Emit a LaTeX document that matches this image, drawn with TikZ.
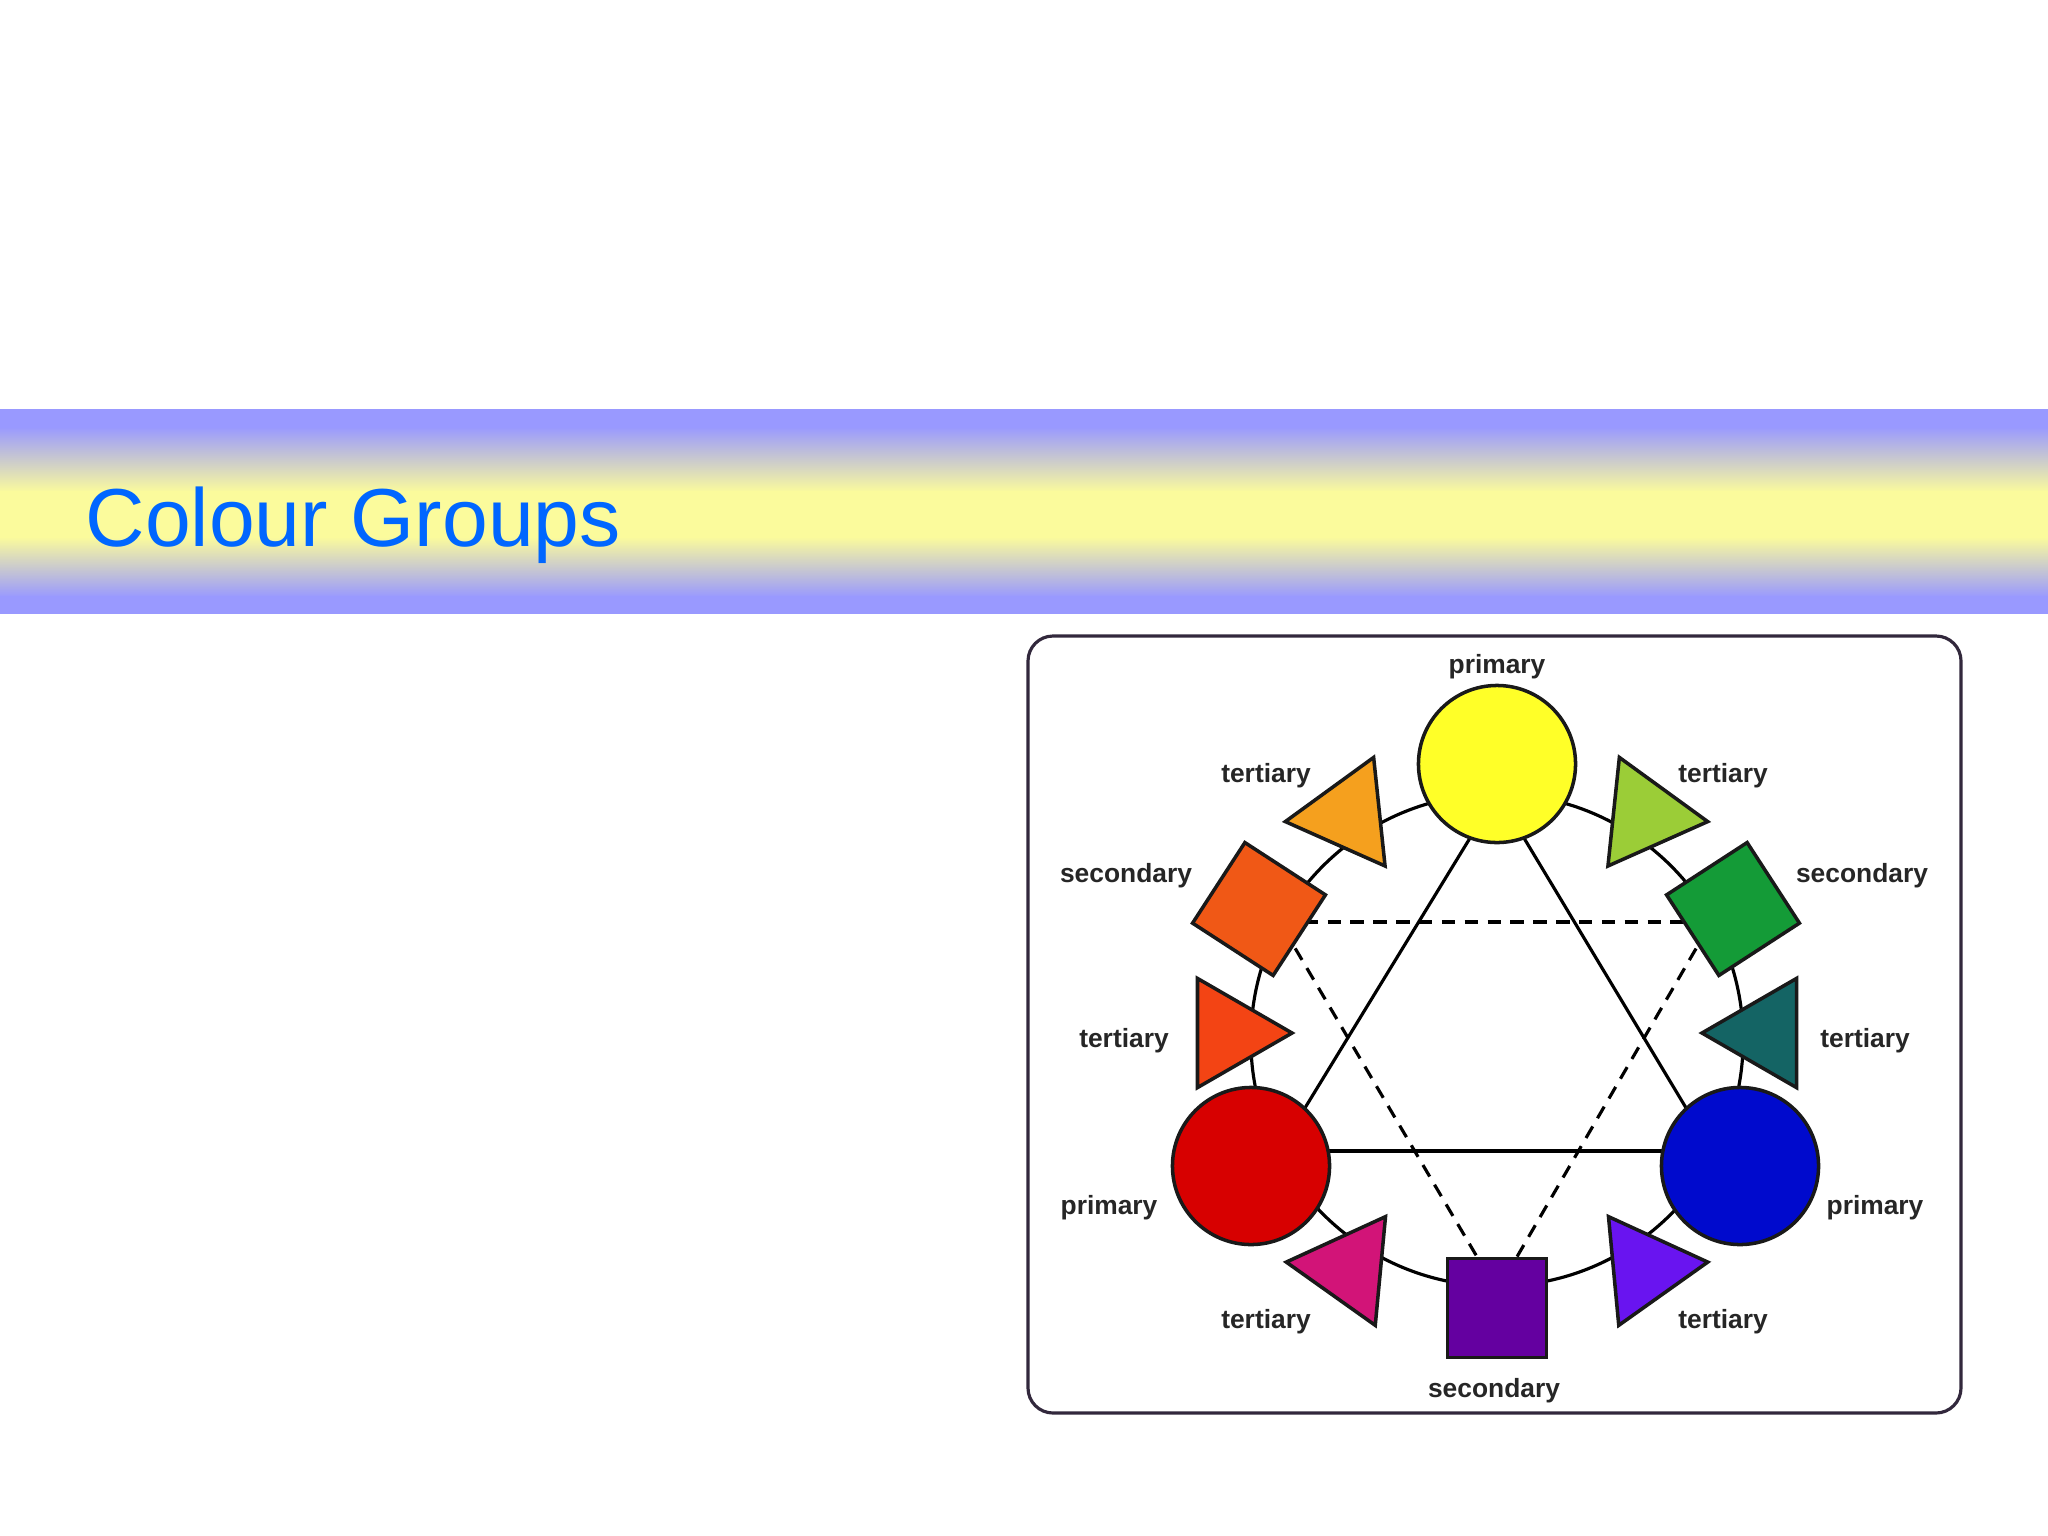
\documentclass[tikz,border=0pt]{standalone}
\usepackage{fontspec}
\setmainfont{Liberation Sans}
\usetikzlibrary{shapes.geometric,calc}
\pgfdeclarelayer{bg}
\pgfsetlayers{bg,main}
\definecolor{lav}{RGB}{153,153,255}
\definecolor{yel}{RGB}{251,251,156}
\definecolor{titleblue}{RGB}{0,102,255}
\definecolor{framec}{RGB}{50,40,60}
\definecolor{labelc}{RGB}{38,38,38}
\definecolor{cY}{RGB}{255,255,40}
\definecolor{cYO}{RGB}{245,160,30}
\definecolor{cO}{RGB}{240,88,22}
\definecolor{cRO}{RGB}{243,68,20}
\definecolor{cR}{RGB}{215,0,0}
\definecolor{cRV}{RGB}{210,20,120}
\definecolor{cP}{RGB}{100,0,160}
\definecolor{cBV}{RGB}{105,20,240}
\definecolor{cB}{RGB}{0,10,205}
\definecolor{cBG}{RGB}{20,100,100}
\definecolor{cG}{RGB}{20,155,55}
\definecolor{cYG}{RGB}{155,205,55}
\tikzset{
  shp/.style={draw=black!90, line width=1pt, inner sep=0pt, outer sep=0pt},
  prim/.style={shp, circle, minimum size=1.57cm},
  secb/.style={shp, rectangle, minimum size=0.96cm},
  tert/.style={shp, regular polygon, regular polygon sides=3, minimum size=1.26cm},
  lbl/.style={font=\fontsize{7.5}{9}\selectfont\bfseries, text=labelc, inner sep=0pt},
  link/.style={draw=black, line width=0.9pt},
  comp/.style={draw=black, line width=0.9pt, dash pattern=on 3.8pt off 2.7pt},
}
\begin{document}
\begin{tikzpicture}[x=0.01cm, y=-0.01cm]
\useasboundingbox (0,0) rectangle (2048,1536);

% shapes
\node[prim, fill=cY] (Y) at (1497,764) {};
\node[prim, fill=cR] (R) at (1251,1166) {};
\node[prim, fill=cB] (B) at (1740,1166) {};
\node[secb, fill=cO, rotate=-33] (Osq) at (1259,909) {};
\node[secb, fill=cG, rotate=33] (Gsq) at (1733,909) {};
\node[secb, fill=cP, minimum size=0.99cm] (Psq) at (1497,1308) {};
\node[tert, fill=cYO, rotate=96] (tYO) at (1348,815) {};
\node[tert, fill=cYG, rotate=-96] (tYG) at (1645,815) {};
\node[tert, fill=cRO, rotate=-90] (tRO) at (1229,1033) {};
\node[tert, fill=cBG, rotate=90] (tBG) at (1765,1033) {};
\node[tert, fill=cRV, rotate=84.6] (tRV) at (1349,1268) {};
\node[tert, fill=cBV, rotate=-84.6] (tBV) at (1645,1268) {};

% labels
\node[lbl] (l1) at (1497,667) {primary};
\node[lbl] (l2) at (1266,776) {tertiary};
\node[lbl] (l3) at (1723,776) {tertiary};
\node[lbl] (l4) at (1126,876) {secondary};
\node[lbl] (l5) at (1862,876) {secondary};
\node[lbl] (l6) at (1124,1041) {tertiary};
\node[lbl] (l7) at (1865,1041) {tertiary};
\node[lbl] (l8) at (1109,1208) {primary};
\node[lbl] (l9) at (1875,1208) {primary};
\node[lbl] (l10) at (1266,1322) {tertiary};
\node[lbl] (l11) at (1723,1322) {tertiary};
\node[lbl] (l12) at (1494,1391) {secondary};

% title
\node[anchor=base west, text=titleblue, font=\fontsize{23.4}{28}\selectfont, inner sep=0pt] (title) at (85,546) {Colour Groups};

\begin{pgfonlayer}{bg}
  \fill[white] (0,0) rectangle (2048,1536);
  % banner
  \fill[lav] (0,409) rectangle (2048,428);
  \shade[top color=lav, bottom color=yel] (0,427) rectangle (2048,492);
  \fill[yel] (0,491) rectangle (2048,538);
  \shade[top color=yel, bottom color=lav] (0,537) rectangle (2048,597);
  \fill[lav] (0,596) rectangle (2048,614);
  % frame
  \draw[framec, fill=white, line width=0.9pt, rounded corners=0.25cm] (1028,636) rectangle (1961,1413);
  % ring
  \coordinate (ringc) at (1497,1040);
  \draw[link] (ringc) circle[radius=2.46cm];
  % primary triangle
  \draw[link] (Y.250) -- (R.47);
  \draw[link] (Y.290) -- (B.133);
  \draw[link] (R.11) -- (B.169);
  % secondary triangle
  \draw[comp] ($(Osq.center)+(0,13)$) -- ($(Gsq.center)+(0,13)$);
  \draw[comp] ($(Osq.center)+(13,0)$) -- ($(Psq.north)+(-19,0)$);
  \draw[comp] ($(Gsq.center)+(-14,0)$) -- ($(Psq.north)+(19,0)$);
\end{pgfonlayer}
\end{tikzpicture}
\end{document}
